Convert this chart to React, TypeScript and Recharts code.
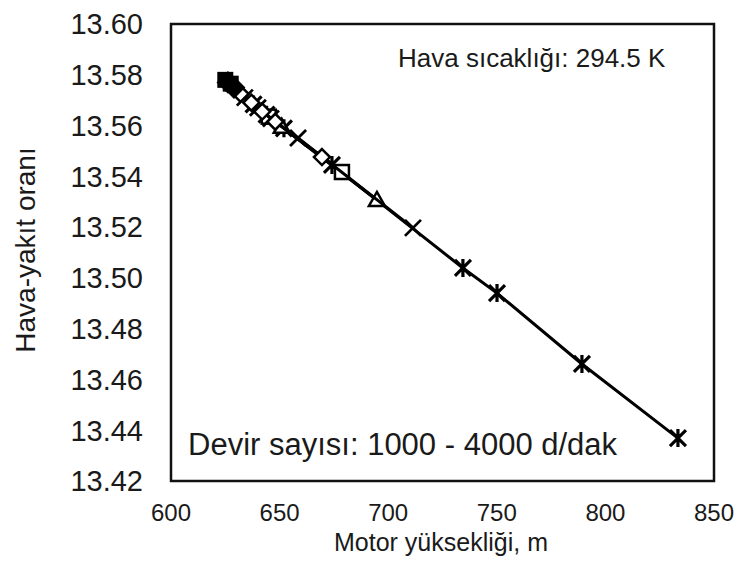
import React from 'react';
import { ScatterChart, Scatter, XAxis, YAxis, ReferenceArea, Customized } from 'recharts';

const xTicks = [600, 650, 700, 750, 800, 850];
const yTicks = [13.42, 13.44, 13.46, 13.48, 13.5, 13.52, 13.54, 13.56, 13.58, 13.6];

// Motor yüksekliği (m) and Hava-yakıt oranı per marker series
const filledSquareAlt = [625, 627.5];
const filledSquareAfr = [13.578, 13.5765];
const filledDiamondAlt = [626.2, 629];
const filledDiamondAfr = [13.577, 13.575];
const diamondAlt = [632, 637, 642, 648, 669.5];
const diamondAfr = [13.5725, 13.569, 13.5655, 13.5615, 13.5476];
const xMarkAlt = [634, 640, 646, 658.5, 711.4];
const xMarkAfr = [13.571, 13.567, 13.5628, 13.5551, 13.5197];
const asteriskAlt = [638, 644, 652, 674.1, 734.4, 750.1, 789.2, 833.4];
const asteriskAfr = [13.5683, 13.5643, 13.5589, 13.5445, 13.5039, 13.494, 13.4661, 13.4369];
const squareAlt = [645, 678.7];
const squareAfr = [13.5635, 13.5417];
const triangleAlt = [651, 694.8];
const triangleAfr = [13.5595, 13.5307];

const toPts = (xs: number[], ys: number[]) => xs.map((x, i) => ({ x, y: ys[i] }));

const FONT = '"Liberation Sans", Arial, sans-serif';
const INK = '#1a1a1a';

const FilledSquare = (p: any) => (
  <rect x={p.cx - 7} y={p.cy - 7} width={14} height={14} fill="#000" stroke="#000" strokeWidth={2} />
);
const FilledDiamond = (p: any) => (
  <path d={`M${p.cx},${p.cy - 10}L${p.cx + 10},${p.cy}L${p.cx},${p.cy + 10}L${p.cx - 10},${p.cy}Z`} fill="#000" stroke="#000" strokeWidth={2} />
);
const OpenDiamond = (p: any) => (
  <path d={`M${p.cx},${p.cy - 8}L${p.cx + 8},${p.cy}L${p.cx},${p.cy + 8}L${p.cx - 8},${p.cy}Z`} fill="#fff" stroke="#000" strokeWidth={2.5} />
);
const OpenSquare = (p: any) => (
  <rect x={p.cx - 7} y={p.cy - 7} width={14} height={14} fill="#fff" stroke="#000" strokeWidth={2.5} />
);
const OpenTriangle = (p: any) => (
  <path d={`M${p.cx},${p.cy - 8}L${p.cx + 8},${p.cy + 6}L${p.cx - 8},${p.cy + 6}Z`} fill="#fff" stroke="#000" strokeWidth={2.5} />
);
const XMark = (p: any) => (
  <path d={`M${p.cx - 8},${p.cy - 8}L${p.cx + 8},${p.cy + 8}M${p.cx - 8},${p.cy + 8}L${p.cx + 8},${p.cy - 8}`} stroke="#000" strokeWidth={2.8} fill="none" />
);
const Asterisk = (p: any) => (
  <path d={`M${p.cx - 8},${p.cy - 8}L${p.cx + 8},${p.cy + 8}M${p.cx - 8},${p.cy + 8}L${p.cx + 8},${p.cy - 8}M${p.cx},${p.cy - 9}L${p.cx},${p.cy + 9}`} stroke="#000" strokeWidth={3.2} fill="none" />
);

const Texts = () => (
  <g fontFamily={FONT} fill={INK}>
    <text x={398} y={67} fontSize={26}>Hava sıcaklığı: 294.5 K</text>
    <text x={188} y={455} fontSize={31}>Devir sayısı: 1000 - 4000 d/dak</text>
    <text x={441} y={551} fontSize={25} textAnchor="middle">Motor yüksekliği, m</text>
    <text x={35} y={250} fontSize={28} textAnchor="middle" transform="rotate(-90 35 250)">Hava-yakıt oranı</text>
  </g>
);

const lineStyle = { stroke: '#000', strokeWidth: 3 };

export default function App() {
  return (
    <div style={{ position: 'absolute', left: 0, top: 0, background: '#fff' }}>
      <ScatterChart width={738} height={570} margin={{ top: 24, right: 24, left: 51, bottom: 29 }}>
        <XAxis
          type="number"
          dataKey="x"
          domain={[600, 850]}
          ticks={xTicks}
          interval={0}
          axisLine={false}
          tickLine={false}
          tickMargin={17}
          height={60}
          tick={{ fontSize: 24, fill: INK, fontFamily: FONT }}
        />
        <YAxis
          type="number"
          dataKey="y"
          domain={[13.42, 13.6]}
          ticks={yTicks}
          interval={0}
          axisLine={false}
          tickLine={false}
          tickMargin={22}
          width={120}
          tickFormatter={(v: number) => v.toFixed(2)}
          tick={{ fontSize: 29, fill: INK, fontFamily: FONT }}
        />
        <ReferenceArea x1={600} x2={850} y1={13.42} y2={13.6} fill="none" fillOpacity={0} stroke="#111" strokeWidth={2.5} ifOverflow="visible" />
        <Scatter data={toPts(asteriskAlt, asteriskAfr)} line={lineStyle} lineType="joint" shape={Asterisk} isAnimationActive={false} />
        <Scatter data={toPts(triangleAlt, triangleAfr)} line={lineStyle} lineType="joint" shape={OpenTriangle} isAnimationActive={false} />
        <Scatter data={toPts(squareAlt, squareAfr)} line={lineStyle} lineType="joint" shape={OpenSquare} isAnimationActive={false} />
        <Scatter data={toPts(xMarkAlt, xMarkAfr)} line={lineStyle} lineType="joint" shape={XMark} isAnimationActive={false} />
        <Scatter data={toPts(diamondAlt, diamondAfr)} line={lineStyle} lineType="joint" shape={OpenDiamond} isAnimationActive={false} />
        <Scatter data={toPts(filledDiamondAlt, filledDiamondAfr)} line={lineStyle} lineType="joint" shape={FilledDiamond} isAnimationActive={false} />
        <Scatter data={toPts(filledSquareAlt, filledSquareAfr)} line={lineStyle} lineType="joint" shape={FilledSquare} isAnimationActive={false} />
        <Customized component={Texts} />
      </ScatterChart>
    </div>
  );
}
